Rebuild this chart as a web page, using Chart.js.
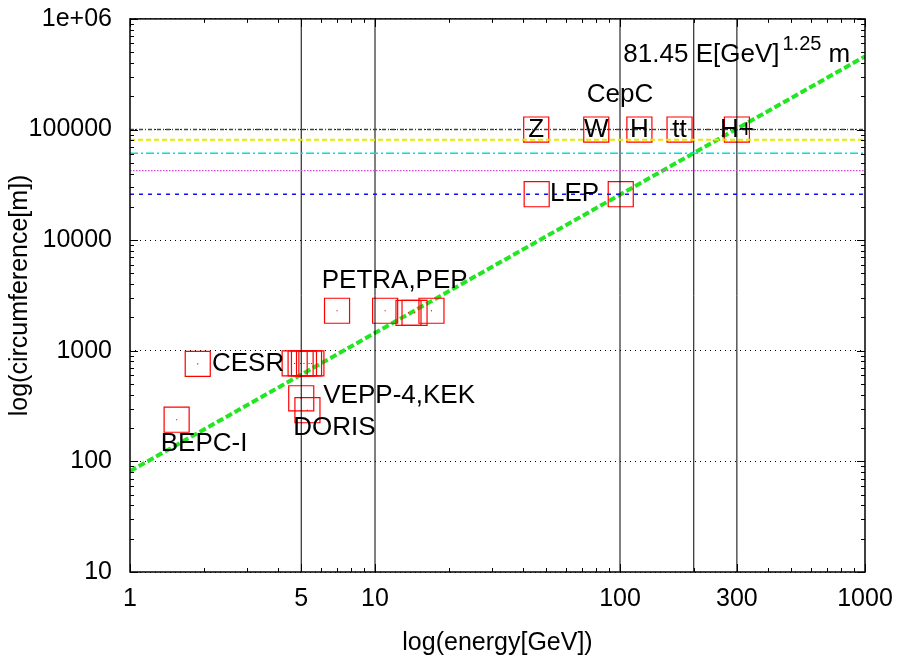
<!DOCTYPE html>
<html>
<head>
<meta charset="utf-8">
<script src="https://cdn.jsdelivr.net/npm/chart.js@4"></script>
<style>
  body { margin: 0; background: #fff; }
  canvas { display: block; }
</style>
</head>
<body>
<canvas id="chart" width="903" height="658"></canvas>
<script>
// axis ticks
const xTickValues = [1, 5, 10, 100, 300, 1000];
const xTickLabels = ["1", "5", "10", "100", "300", "1000"];
const yTickValues = [10, 100, 1000, 10000, 100000, 1000000];
const yTickLabels = ["10", "100", "1000", "10000", "100000", "1e+06"];

// existing machines (energy GeV, circumference m)
const machineE = [1.55, 1.89, 4.70, 4.97, 5.13, 5.38, 5.50, 5.0, 5.3, 7.0, 11.0, 13.7, 14.5, 17.0, 45.7, 100.7];
const machineC = [238, 762, 768, 768, 768, 768, 768, 372, 290, 2300, 2300, 2200, 2200, 2300, 26000, 26000];

// CepC running points
const cepcNames = ["Z", "W", "H", "tt", "H+"];
const cepcE = [45.5, 80, 120, 175, 300];
const cepcC = [100000, 100000, 100000, 100000, 100000];

// horizontal reference lines (circumference m)
const hLineC = [100000, 81000, 61000, 42500, 26000];
// vertical reference lines (energy GeV)
const vLineE = [5, 10, 100, 200, 300];

// fit line end points: 81.45 E^1.25
const fitE = [1, 1000];
const fitC = [81.45, 458000];

// text labels
const labelTexts = ["CepC", "LEP", "PETRA,PEP", "CESR", "VEPP-4,KEK", "DORIS", "BEPC-I"];
const labelE = [100, 51.8, 6.06, 2.16, 6.15, 4.64, 1.335];
const labelC = [207000, 26000, 4300, 762, 395, 202, 144.5];

const FONT = "'Liberation Sans', Arial, Helvetica, sans-serif";
Chart.defaults.color = "#000";
Chart.defaults.font.family = FONT;

const hStyles = [
  { color: "#444", dash: [4, 2, 1, 2], width: 1.3 },
  { color: "#e8e800", dash: [5, 3], width: 2 },
  { color: "#00dddd", dash: [8, 3, 2, 3], width: 1.3 },
  { color: "#dd44dd", dash: [1.5, 1.5], width: 1.3 },
  { color: "#1010ee", dash: [4, 5], width: 1.3 }
];

const datasets = [];

hLineC.forEach((c, i) => {
  datasets.push({
    data: [{ x: 1, y: c }, { x: 1000, y: c }],
    showLine: true, pointRadius: 0,
    borderColor: hStyles[i].color, borderWidth: hStyles[i].width, borderDash: hStyles[i].dash
  });
});

vLineE.forEach(e => {
  datasets.push({
    data: [{ x: e, y: 10 }, { x: e, y: 1000000 }],
    showLine: true, pointRadius: 0, borderColor: "#000", borderWidth: 1
  });
});

const allE = machineE.concat(cepcE);
const allC = machineC.concat(cepcC);
const squares = allE.map((e, i) => ({ x: e, y: allC[i] }));

datasets.push({
  data: squares,
  pointStyle: "rect", pointRadius: 17.7, pointBorderWidth: 1.2,
  pointBorderColor: "#ff0000", pointBackgroundColor: "rgba(0,0,0,0)"
});
datasets.push({
  data: squares,
  pointStyle: "rect", pointRadius: 0.8, pointBorderWidth: 0,
  pointBackgroundColor: "red"
});

datasets.push({
  data: fitE.map((e, i) => ({ x: e, y: fitC[i] })),
  showLine: true, pointRadius: 0,
  borderColor: "#22e622", borderWidth: 4, borderDash: [7, 3]
});

const labelsPlugin = {
  id: "labels",
  afterDatasetsDraw(chart) {
    const { ctx, scales: { x, y } } = chart;
    ctx.save();
    ctx.fillStyle = "#000";
    ctx.textBaseline = "middle";
    ctx.font = "26px " + FONT;

    // CepC point names inside the squares
    ctx.textAlign = "center";
    cepcNames.forEach((t, i) => {
      ctx.fillText(t, x.getPixelForValue(cepcE[i]), y.getPixelForValue(cepcC[i]));
    });

    labelTexts.forEach((t, i) => {
      ctx.textAlign = t === "CepC" ? "center" : "left";
      ctx.fillText(t, x.getPixelForValue(labelE[i]), y.getPixelForValue(labelC[i]));
    });

    // formula
    let px = x.getPixelForValue(103.2);
    const py = y.getPixelForValue(469000);
    ctx.textAlign = "left";
    const main = "81.45 E[GeV]";
    ctx.fillText(main, px, py);
    px += ctx.measureText(main).width + 3;
    ctx.font = "20px " + FONT;
    ctx.fillText("1.25", px, py - 11);
    px += ctx.measureText("1.25").width;
    ctx.font = "26px " + FONT;
    ctx.fillText(" m", px, py);
    ctx.restore();
  }
};

const framePlugin = {
  id: "frame",
  afterDraw(chart) {
    const { ctx, chartArea: a, scales: { x, y } } = chart;
    ctx.save();
    ctx.strokeStyle = "#000";
    ctx.lineWidth = 1;
    ctx.beginPath();
    for (let d = 0; d < 3; d++) {
      for (let m = 1; m <= 10; m++) {
        const v = m * Math.pow(10, d);
        const len = xTickValues.includes(v) ? 8 : 4;
        const p = Math.round(x.getPixelForValue(v)) + 0.5;
        ctx.moveTo(p, a.bottom); ctx.lineTo(p, a.bottom - len);
        ctx.moveTo(p, a.top); ctx.lineTo(p, a.top + len);
      }
    }
    for (let d = 1; d < 6; d++) {
      for (let m = 1; m <= 10; m++) {
        const v = m * Math.pow(10, d);
        const len = yTickValues.includes(v) ? 8 : 4;
        const p = Math.round(y.getPixelForValue(v)) + 0.5;
        ctx.moveTo(a.left, p); ctx.lineTo(a.left + len, p);
        ctx.moveTo(a.right, p); ctx.lineTo(a.right - len, p);
      }
    }
    ctx.stroke();
    ctx.lineWidth = 1.5;
    ctx.strokeRect(a.left, a.top, a.right - a.left, a.bottom - a.top);
    ctx.restore();
  }
};

new Chart(document.getElementById("chart"), {
  type: "scatter",
  data: { datasets },
  options: {
    responsive: false,
    animation: false,
    devicePixelRatio: 1,
    layout: { padding: { left: 0, right: 38, top: 17.5, bottom: 0 } },
    plugins: { legend: { display: false }, tooltip: { enabled: false } },
    scales: {
      x: {
        type: "logarithmic", min: 1, max: 1000,
        afterBuildTicks: s => { s.ticks = xTickValues.map(v => ({ value: v })); },
        afterFit: s => { s.height = 86; s.paddingLeft = 0; s.paddingRight = 0; },
        grid: { display: false, drawTicks: false },
        border: { display: false },
        ticks: {
          autoSkip: false, maxRotation: 0, padding: 12,
          font: { size: 25 },
          callback: (v, i) => xTickLabels[i]
        },
        title: {
          display: true, text: "log(energy[GeV])",
          font: { size: 25 }, padding: { top: 0, bottom: 0 }
        }
      },
      y: {
        type: "logarithmic", min: 10, max: 1000000,
        afterBuildTicks: s => { s.ticks = yTickValues.map(v => ({ value: v })); },
        afterFit: s => { s.width = 130; s.paddingTop = 0; s.paddingBottom = 0; },
        grid: { color: "#000", lineWidth: 1, drawTicks: false },
        border: { display: false, dash: [1, 4] },
        ticks: {
          autoSkip: false, padding: 18,
          font: { size: 25 },
          callback: (v, i) => yTickLabels[i]
        },
        title: {
          display: true, text: "log(circumference[m])",
          font: { size: 25 }, padding: { top: 5, bottom: 0 }
        }
      }
    }
  },
  plugins: [labelsPlugin, framePlugin]
});
</script>
</body>
</html>
